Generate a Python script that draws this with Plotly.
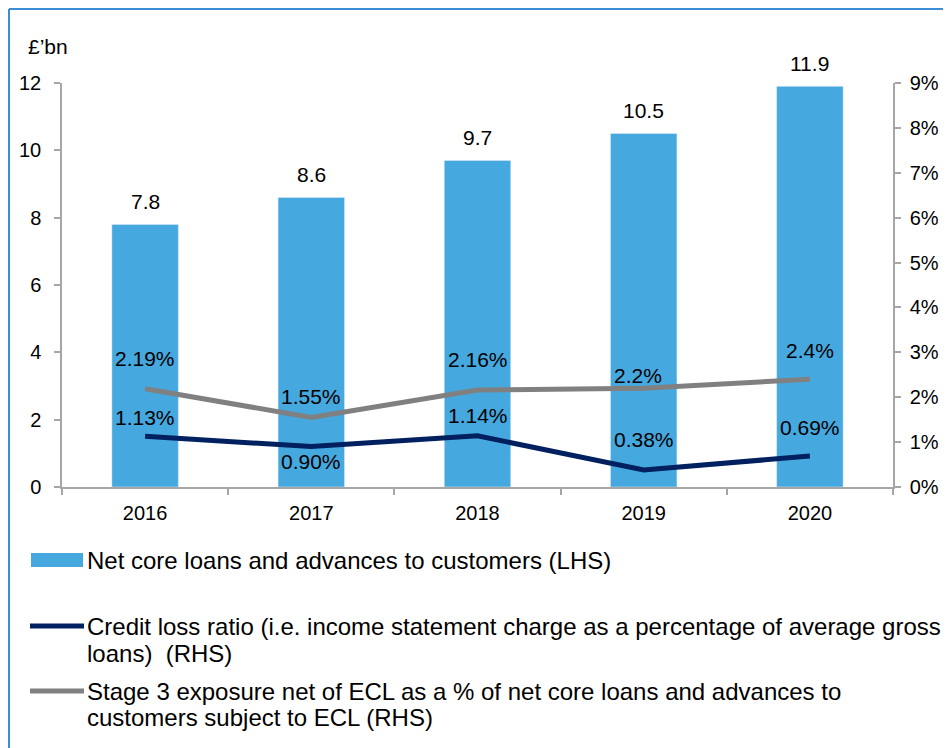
import plotly.graph_objects as go

# ---- data ----
years = ["2016", "2017", "2018", "2019", "2020"]
net_core_loans = [7.8, 8.6, 9.7, 10.5, 11.9]            # £bn, LHS
credit_loss_ratio = [1.13, 0.90, 1.14, 0.38, 0.69]      # %, RHS
stage3_exposure = [2.19, 1.55, 2.16, 2.2, 2.4]          # %, RHS

loan_labels = ["7.8", "8.6", "9.7", "10.5", "11.9"]
clr_labels = ["1.13%", "0.90%", "1.14%", "0.38%", "0.69%"]
s3_labels = ["2.19%", "1.55%", "2.16%", "2.2%", "2.4%"]

left_ticks = [0, 2, 4, 6, 8, 10, 12]
right_ticks = [0, 1, 2, 3, 4, 5, 6, 7, 8, 9]
right_tick_text = [f"{v}%" for v in right_ticks]

legend_lines = [
    ["Net core loans and advances to customers (LHS)"],
    ["Credit loss ratio (i.e. income statement charge as a percentage of average gross",
     "loans)&nbsp; (RHS)"],
    ["Stage 3 exposure net of ECL as a % of net core loans and advances to",
     "customers subject to ECL (RHS)"],
]

# ---- style ----
OFF = 8                      # page body margin
W, H = 951, 748
L, T = 62 - OFF, 83 - OFF
PW, PH = 831, 404
R, B = W - L - PW, H - T - PH
BAR_C = "#45A8DF"
NAVY = "#002060"
GREY = "#808080"
AXIS_C = "#A6A6A6"
FRAME_C = "#3C8DD5"
FONT = "Liberation Sans, Arial, sans-serif"
FS_TICK = 20
FS_LAB = 21
FS_LEG = 24

def px_x(px):
    return (px - OFF - L) / PW

def px_y(py):
    return (T + PH - (py - OFF)) / PH

fig = go.Figure()
fig.add_trace(go.Bar(x=years, y=net_core_loans, marker_color=BAR_C, width=0.4,
                     name=legend_lines[0][0], showlegend=False, yaxis="y"))
fig.add_trace(go.Scatter(x=years, y=credit_loss_ratio, mode="lines",
                         line=dict(color=NAVY, width=5), name="Credit loss ratio",
                         showlegend=False, yaxis="y2"))
fig.add_trace(go.Scatter(x=years, y=stage3_exposure, mode="lines",
                         line=dict(color=GREY, width=5), name="Stage 3 exposure",
                         showlegend=False, yaxis="y2"))

annotations = []
lab_font = dict(size=FS_LAB, color="black", family=FONT)
# bar labels
for i, (v, t) in enumerate(zip(net_core_loans, loan_labels)):
    annotations.append(dict(x=i, y=v, xref="x", yref="y", text=t, showarrow=False,
                            yanchor="middle", yshift=23, font=lab_font))
# line labels
clr_shift = [19, -15, 20, 30, 29]
s3_shift = [30, 21, 31, 13, 29]
s3_xshift = [0, 0, 0, -6, 0]
for i, (v, t, s) in enumerate(zip(credit_loss_ratio, clr_labels, clr_shift)):
    annotations.append(dict(x=i, y=v, xref="x", yref="y2", text=t, showarrow=False,
                            yanchor="middle", yshift=s, font=lab_font))
for i, (v, t, s, xs) in enumerate(zip(stage3_exposure, s3_labels, s3_shift, s3_xshift)):
    annotations.append(dict(x=i, y=v, xref="x", yref="y2", text=t, showarrow=False,
                            yanchor="middle", yshift=s, xshift=xs, font=lab_font))
# unit label
annotations.append(dict(x=px_x(26), y=px_y(47), xref="paper", yref="paper",
                        text="£’bn", showarrow=False, xanchor="left", yanchor="middle",
                        font=lab_font))

# manual legend
legend_rows = [[560], [626, 653], [691, 718]]
for lines, rows in zip(legend_lines, legend_rows):
    for txt, py in zip(lines, rows):
        annotations.append(dict(x=px_x(85), y=px_y(py), xref="paper", yref="paper",
                                text=txt, showarrow=False, xanchor="left",
                                yanchor="middle", align="left",
                                font=dict(size=FS_LEG, color="black", family=FONT)))

shapes = [
    dict(type="rect", xref="paper", yref="paper", x0=px_x(31), x1=px_x(83),
         y0=px_y(553), y1=px_y(567), fillcolor=BAR_C, line=dict(width=0)),
    dict(type="line", xref="paper", yref="paper", x0=px_x(30), x1=px_x(84),
         y0=px_y(626), y1=px_y(626), line=dict(color=NAVY, width=5)),
    dict(type="line", xref="paper", yref="paper", x0=px_x(30), x1=px_x(84),
         y0=px_y(691), y1=px_y(691), line=dict(color=GREY, width=5)),
    # frame
    dict(type="line", xref="paper", yref="paper", x0=px_x(9), x1=px_x(980),
         y0=px_y(9), y1=px_y(9), line=dict(color=FRAME_C, width=2)),
    dict(type="line", xref="paper", yref="paper", x0=px_x(9), x1=px_x(9),
         y0=px_y(9), y1=px_y(780), line=dict(color=FRAME_C, width=2)),
]

axis_common = dict(showline=True, linecolor=AXIS_C, linewidth=1.5, ticks="outside",
                   ticklen=6, tickcolor=AXIS_C, tickwidth=1.5, showgrid=False,
                   tickfont=dict(size=FS_TICK, family=FONT, color="black"))

fig.update_layout(
    width=W, height=H,
    margin=dict(l=L, r=R, t=T, b=B, pad=0),
    paper_bgcolor="white", plot_bgcolor="white",
    font=dict(family=FONT, size=FS_TICK, color="black"),
    showlegend=False,
    xaxis=dict(type="category", range=[-0.5, 4.5], tickson="boundaries", tickangle=0,
               ticklabelstandoff=7, **axis_common),
    yaxis=dict(range=[0, 12], tickvals=left_ticks, zeroline=False,
               ticklabelstandoff=9, **axis_common),
    yaxis2=dict(range=[0, 9], tickvals=right_ticks, ticktext=right_tick_text,
                overlaying="y", side="right", zeroline=False,
                ticklabelstandoff=5, **axis_common),
    annotations=annotations,
    shapes=shapes,
)

fig.write_html("out.html")
